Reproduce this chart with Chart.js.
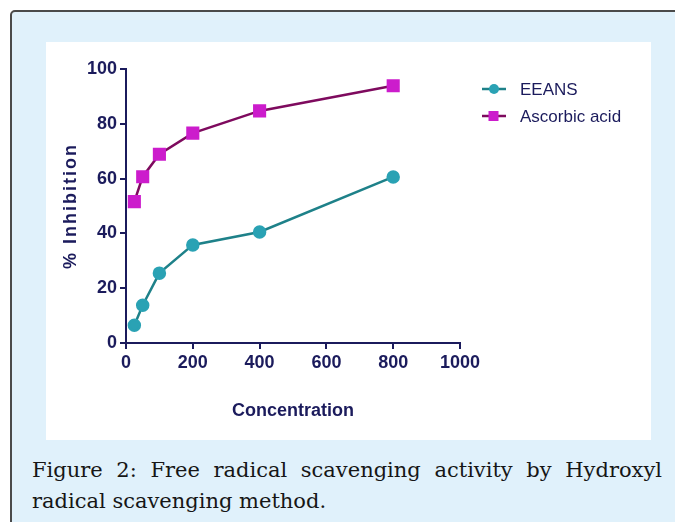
<!DOCTYPE html>
<html>
<head>
<meta charset="utf-8">
<script src="https://cdn.jsdelivr.net/npm/chart.js@4"></script>
<style>
  html, body { margin: 0; padding: 0; background: #ffffff; overflow: hidden; }
  body { width: 675px; height: 522px; position: relative; }
  #frame {
    position: absolute; left: 10px; top: 10px; width: 700px; height: 600px;
    background: #e0f1fb; border: 2px solid #4a4a4a; border-top-left-radius: 5px;
    box-sizing: border-box;
  }
  #panel { position: absolute; left: 46px; top: 42px; width: 605px; height: 398px; background: #ffffff; }
  #caption {
    position: absolute; left: 32px; top: 455px; width: 630px;
    font-family: "DejaVu Serif", "Liberation Serif", serif; font-size: 21px; line-height: 31px; color: #161616;
  }
  #caption .l1 { display: block; text-align: justify; text-align-last: justify; }
</style>
</head>
<body>
<div id="frame"></div>
<div id="panel"><canvas id="chart" width="605" height="398"></canvas></div>
<div id="caption"><span class="l1">Figure 2: Free radical scavenging activity by Hydroxyl</span>radical scavenging method.</div>
<script>
// data
const concentrations = [25, 50, 100, 200, 400, 800];
const eeans = [6.5, 13.8, 25.5, 35.8, 40.5, 60.6];
const ascorbicAcid = [51.6, 60.7, 68.9, 76.6, 84.7, 93.9];
const xTicks = [0, 200, 400, 600, 800, 1000];
const yTicks = [0, 20, 40, 60, 80, 100];

const navy = '#1b1b5c';
const tickFont = { family: '"Liberation Sans", Arial, sans-serif', size: 18, weight: 'bold' };

const toPoints = values => values.map((v, i) => ({ x: concentrations[i], y: v }));

// y title drawn by hand so it can be letter-spaced like the original
const yTitlePlugin = {
  id: 'yTitle',
  afterDraw(chart) {
    const ctx = chart.ctx;
    const area = chart.chartArea;
    ctx.save();
    ctx.translate(25, (area.top + area.bottom) / 2);
    ctx.rotate(-Math.PI / 2);
    ctx.font = 'bold 18px "Liberation Sans", Arial, sans-serif';
    ctx.letterSpacing = '2px';
    ctx.fillStyle = navy;
    ctx.textAlign = 'center';
    ctx.textBaseline = 'middle';
    ctx.fillText('% Inhibition', 0, 0);
    ctx.restore();
  }
};

// legend with a short line through the marker, placed to the right of the plot
const lineLegendPlugin = {
  id: 'lineLegend',
  afterDraw(chart) {
    const ctx = chart.ctx;
    const x0 = chart.chartArea.right + 22;
    chart.data.datasets.forEach((ds, i) => {
      const y = 47 + i * 27;
      ctx.save();
      ctx.strokeStyle = ds.borderColor;
      ctx.lineWidth = 2.5;
      ctx.beginPath();
      ctx.moveTo(x0, y);
      ctx.lineTo(x0 + 24, y);
      ctx.stroke();
      ctx.fillStyle = ds.pointBackgroundColor;
      if (ds.pointStyle === 'rect') {
        ctx.fillRect(x0 + 6.5, y - 5, 10, 10);
      } else {
        ctx.beginPath();
        ctx.arc(x0 + 12, y, 5, 0, Math.PI * 2);
        ctx.fill();
      }
      ctx.font = '17px "Liberation Sans", Arial, sans-serif';
      ctx.fillStyle = navy;
      ctx.textBaseline = 'middle';
      ctx.fillText(ds.label, x0 + 38, y + 1);
      ctx.restore();
    });
  }
};

new Chart(document.getElementById('chart'), {
  type: 'line',
  data: {
    datasets: [
      {
        label: 'EEANS',
        data: toPoints(eeans),
        borderColor: '#1e8189',
        borderWidth: 2.5,
        pointStyle: 'circle',
        pointRadius: 5.5,
        pointBackgroundColor: '#2aa2b4',
        pointBorderColor: '#2aa2b4',
        tension: 0
      },
      {
        label: 'Ascorbic acid',
        data: toPoints(ascorbicAcid),
        borderColor: '#7e0a5e',
        borderWidth: 2.5,
        pointStyle: 'rect',
        pointRadius: 7.5,
        pointBackgroundColor: '#cc1ccc',
        pointBorderColor: '#cc1ccc',
        tension: 0
      }
    ]
  },
  options: {
    responsive: false,
    animation: false,
    events: [],
    layout: { padding: { left: 0, top: 27, right: 191, bottom: 0 } },
    plugins: {
      legend: { display: false },
      tooltip: { enabled: false }
    },
    scales: {
      x: {
        type: 'linear',
        min: 0,
        max: 1000,
        afterFit: scale => { scale.height = 97; },
        afterBuildTicks: scale => { scale.ticks = xTicks.map(v => ({ value: v })); },
        border: { color: navy, width: 2 },
        grid: { drawOnChartArea: false, drawTicks: true, tickLength: 6, color: navy, lineWidth: 2 },
        ticks: { color: navy, font: tickFont, padding: 3, maxRotation: 0, callback: v => String(v) },
        title: {
          display: true,
          text: 'Concentration',
          color: navy,
          font: { family: '"Liberation Sans", Arial, sans-serif', size: 18, weight: 'bold' },
          padding: { top: 0, bottom: 18 }
        }
      },
      y: {
        min: 0,
        max: 100,
        afterFit: scale => { scale.width = 80; },
        afterBuildTicks: scale => { scale.ticks = yTicks.map(v => ({ value: v })); },
        border: { color: navy, width: 2 },
        grid: { drawOnChartArea: false, drawTicks: true, tickLength: 6, color: navy, lineWidth: 2 },
        ticks: { color: navy, font: tickFont, padding: 3, callback: v => String(v) }
      }
    }
  },
  plugins: [yTitlePlugin, lineLegendPlugin]
});
</script>
</body>
</html>
